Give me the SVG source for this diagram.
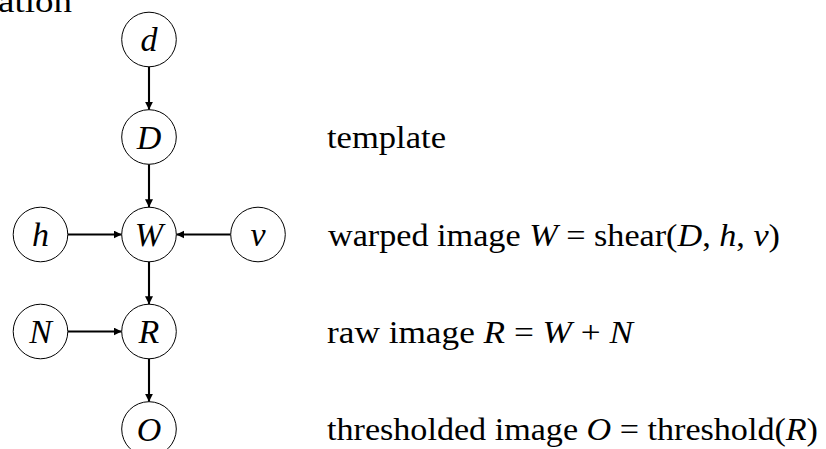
<svg xmlns="http://www.w3.org/2000/svg" width="826" height="449" viewBox="0 0 826 449">
<defs>
<style>
.node{fill:#fff;stroke:#000;stroke-width:1}
.lbl{font-family:"Liberation Serif",serif;font-style:italic;font-size:34px;text-anchor:middle;fill:#000}
.txt{font-family:"Liberation Serif",serif;font-size:32px;fill:#000}
.it{font-style:italic}
.edge{stroke:#000;stroke-width:2.1;fill:none;marker-end:url(#arr)}
</style>
<marker id="arr" markerUnits="userSpaceOnUse" markerWidth="9" markerHeight="9" refX="8" refY="4" orient="auto">
<path d="M0,0 L8,4 L0,8 z" fill="#000"/>
</marker>
</defs>
<rect width="826" height="449" fill="#fff"/>
<text class="txt" x="-2" y="12" textLength="74" lengthAdjust="spacingAndGlyphs">ation</text>
<g id="connectors">
<line class="edge" x1="149" y1="66.8" x2="149" y2="109.7"/>
<line class="edge" x1="149" y1="164.3" x2="149" y2="207.2"/>
<line class="edge" x1="67.8" y1="234.5" x2="121.7" y2="234.5"/>
<line class="edge" x1="230.7" y1="234.5" x2="176.3" y2="234.5"/>
<line class="edge" x1="149" y1="261.8" x2="149" y2="304.2"/>
<line class="edge" x1="67.8" y1="331.5" x2="121.7" y2="331.5"/>
<line class="edge" x1="149" y1="358.8" x2="149" y2="401.7"/>
</g>
<g id="node-d"><circle class="node" cx="149" cy="39.5" r="27.3"/><text class="lbl" x="149" y="51">d</text></g>
<g id="node-D"><circle class="node" cx="149" cy="137" r="27.3"/><text class="lbl" x="149" y="148.5">D</text></g>
<g id="node-W"><circle class="node" cx="149" cy="234.5" r="27.3"/><text class="lbl" x="149" y="246">W</text></g>
<g id="node-h"><circle class="node" cx="40.5" cy="234.5" r="27.3"/><text class="lbl" x="40.5" y="246">h</text></g>
<g id="node-v"><circle class="node" cx="258" cy="234.5" r="27.3"/><text class="lbl" x="258" y="246">v</text></g>
<g id="node-R"><circle class="node" cx="149" cy="331.5" r="27.3"/><text class="lbl" x="149" y="343">R</text></g>
<g id="node-N"><circle class="node" cx="40.5" cy="331.5" r="27.3"/><text class="lbl" x="40.5" y="343">N</text></g>
<g id="node-O"><circle class="node" cx="149" cy="429" r="27.3"/><text class="lbl" x="149" y="440.5">O</text></g>
<g id="annotations">
<text class="txt" x="327" y="148" textLength="119" lengthAdjust="spacingAndGlyphs">template</text>
<text class="txt" x="328" y="245.5" textLength="452" lengthAdjust="spacingAndGlyphs">warped image <tspan class="it">W</tspan> = shear(<tspan class="it">D</tspan>, <tspan class="it">h</tspan>, <tspan class="it">v</tspan>)</text>
<text class="txt" x="327" y="342.5" textLength="306" lengthAdjust="spacingAndGlyphs">raw image <tspan class="it">R</tspan> = <tspan class="it">W</tspan> + <tspan class="it">N</tspan></text>
<text class="txt" x="327" y="440" textLength="491" lengthAdjust="spacingAndGlyphs">thresholded image <tspan class="it">O</tspan> = threshold(<tspan class="it">R</tspan>)</text>
</g>
</svg>
